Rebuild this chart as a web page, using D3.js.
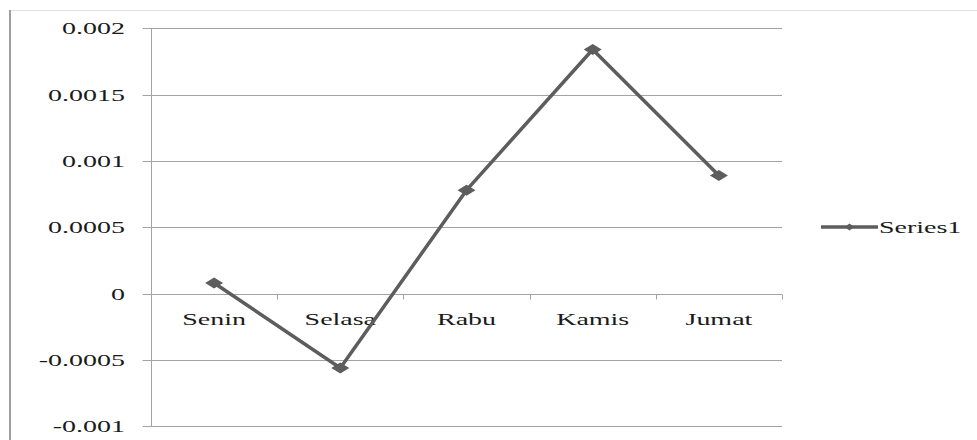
<!DOCTYPE html>
<html>
<head>
<meta charset="utf-8">
<script src="https://cdn.jsdelivr.net/npm/d3@7"></script>
<style>
  html, body { margin: 0; padding: 0; background: #fff; }
  svg { display: block; }
</style>
</head>
<body>
<svg id="chart" width="977" height="440"></svg>
<script>
// ---- data ----
const categories = ["Senin", "Selasa", "Rabu", "Kamis", "Jumat"];
const series1 = [0.00008, -0.00056, 0.00078, 0.00184, 0.00089];
const seriesName = "Series1";
const yTickValues = [0.002, 0.0015, 0.001, 0.0005, 0, -0.0005, -0.001];
const yTickLabels = ["0.002", "0.0015", "0.001", "0.0005", "0", "-0.0005", "-0.001"];

// ---- layout ----
const W = 977, H = 440;
const plot = { left: 151, right: 782, top: 28.3, bottom: 426.3 };
const SX = 1.6;            // horizontal stretch of text seen in the reference
const FS = 17.5;
const FONT = 'Liberation Serif';
const lineColor = "#5d5d5d";
const gridColor = "#a3a3a3";
const textColor = "#1a1a1a";

const svg = d3.select("#chart");

// outer frame
svg.append("line").attr("x1", 10).attr("x2", W).attr("y1", 10.5).attr("y2", 10.5)
  .attr("stroke", "#e2e2e2").attr("stroke-width", 1);
svg.append("line").attr("x1", 10).attr("x2", 10).attr("y1", 10).attr("y2", H)
  .attr("stroke", "#9f9f9f").attr("stroke-width", 2);

const x = d3.scaleBand().domain(categories).range([plot.left, plot.right]).padding(0);
const y = d3.scaleLinear().domain([-0.001, 0.002]).range([plot.bottom, plot.top]);

// gridlines
svg.append("g").selectAll("line").data(yTickValues).join("line")
  .attr("x1", plot.left).attr("x2", plot.right)
  .attr("y1", d => Math.round(y(d)) + 0.5).attr("y2", d => Math.round(y(d)) + 0.5)
  .attr("stroke", gridColor).attr("stroke-width", 1);

// y axis
const yAxis = svg.append("g").attr("transform", `translate(${plot.left + 0.5},0)`)
  .call(d3.axisLeft(y).tickValues(yTickValues).tickSize(9).tickSizeOuter(0)
    .tickFormat((d, i) => yTickLabels[i]));
yAxis.select(".domain").attr("stroke", gridColor).attr("d", `M0,${plot.top}V${plot.bottom}`);
yAxis.selectAll(".tick line").attr("stroke", gridColor);
yAxis.selectAll(".tick").attr("transform", d => `translate(0,${Math.round(y(d)) + 0.5})`);
yAxis.selectAll(".tick text")
  .attr("x", 0).attr("dy", "0.34em")
  .attr("transform", `translate(-26.5,0) scale(${SX},1)`)
  .attr("font-size", FS)
  .style("font-family", FONT)
  .style("fill", textColor);

// x axis along zero
const y0 = Math.round(y(0)) + 0.5;
const xTickPos = categories.map(c => x(c)).concat([x.range()[1]]);
svg.append("g").selectAll("line").data(xTickPos.slice(1)).join("line")
  .attr("x1", d => Math.round(d) + 0.5).attr("x2", d => Math.round(d) + 0.5)
  .attr("y1", y0).attr("y2", y0 + 5)
  .attr("stroke", gridColor).attr("stroke-width", 1);

// category labels
svg.append("g").selectAll("text").data(categories).join("text")
  .attr("text-anchor", "middle")
  .attr("font-size", FS)
  .style("font-family", FONT)
  .style("fill", textColor)
  .attr("transform", d => `translate(${x(d) + x.bandwidth() / 2},325) scale(${SX},1)`)
  .text(d => d);

// series line
const pts = categories.map((c, i) => [x(c) + x.bandwidth() / 2, y(series1[i])]);
svg.append("path")
  .attr("d", d3.line()(pts))
  .attr("fill", "none").attr("stroke", lineColor).attr("stroke-width", 3.5)
  .attr("stroke-linejoin", "round");

// diamond markers
const diamond = (w, h) => `M0,${-h / 2}L${w / 2},0L0,${h / 2}L${-w / 2},0Z`;
svg.append("g").selectAll("path").data(pts).join("path")
  .attr("transform", d => `translate(${d[0]},${d[1]})`)
  .attr("d", diamond(18, 11))
  .attr("fill", lineColor);

// legend
const lg = svg.append("g").attr("transform", "translate(821,227)");
lg.append("line").attr("x1", 0).attr("x2", 57).attr("y1", 0).attr("y2", 0)
  .attr("stroke", lineColor).attr("stroke-width", 3.5);
lg.append("path").attr("transform", "translate(28.5,0)").attr("d", diamond(10, 7)).attr("fill", lineColor);
lg.append("text").attr("font-size", FS).attr("dy", "0.34em")
  .style("font-family", FONT)
  .style("fill", textColor)
  .attr("transform", `translate(58,0) scale(${SX},1)`)
  .text(seriesName);
</script>
</body>
</html>
